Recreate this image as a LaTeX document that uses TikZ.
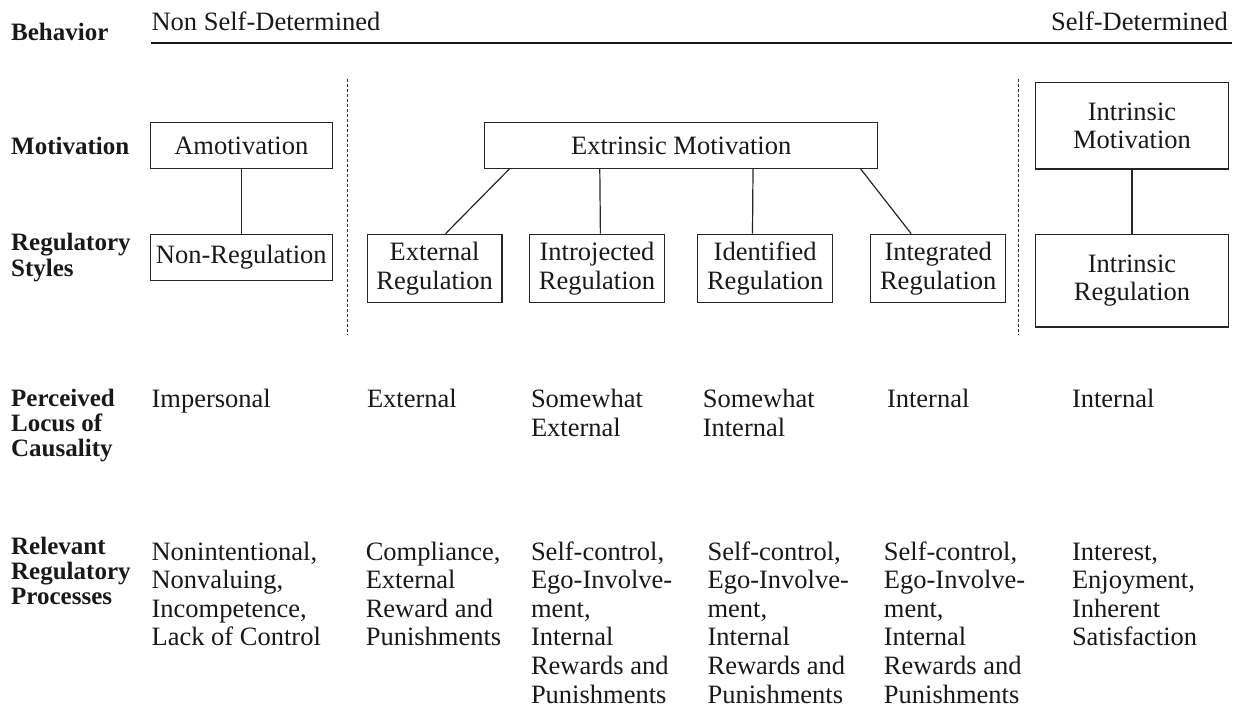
\documentclass[tikz,border=0pt]{standalone}
\usepackage{fontspec}
\setmainfont{Liberation Serif}
% top-aligned stack of lines: the node's baseline is that of the first line
\newcommand{\colstack}[1]{\begin{tabular}[t]{@{}l@{}}#1\end{tabular}}
\begin{document}
\begin{tikzpicture}[x=1pt,y=-1pt,
  lbl/.style={anchor=base west,inner sep=0pt,text=black!90,
    font=\fontsize{25}{25.4}\selectfont\bfseries},
  txt/.style={anchor=base west,inner sep=0pt,text=black!90,
    font=\fontsize{26.5}{28.6}\selectfont},
  loc/.style={txt,font=\fontsize{26.5}{29.4}\selectfont},
  box/.style={draw=black!85,line width=1.2pt,inner sep=0pt,align=center,text=black!90,
    font=\fontsize{26.5}{28.8}\selectfont},
  link/.style={draw=black!85,line width=1.2pt},
  sep/.style={draw=black!80,line width=1.2pt,dash pattern=on 3pt off 2pt}]
\useasboundingbox (0,0) rectangle (1237,709);

% continuum header
\node[lbl] (hBeh) at (11,41) {Behavior};
\node[txt] (hNon) at (151.4,30.7) {Non Self-Determined};
\node[txt,anchor=base east] (hSelf) at (1228,30.7) {Self-Determined};
\coordinate (axL) at (151.4,43.3);
\coordinate (axR) at (1232,43.3);
\draw[line width=2.2pt,black!90] (axL) -- (axR);

% column separators
\draw[sep] (347.8,79.3) -- (347.8,335);
\draw[sep] (1018.7,79.3) -- (1018.7,335);

% row labels
\node[lbl] (rMot) at (11,154) {Motivation};
\node[lbl] (rReg) at (11,250.7) {\colstack{Regulatory\\Styles}};
\node[lbl] (rLoc) at (11,406) {\colstack{Perceived\\Locus of\\Causality}};
\node[lbl] (rPro) at (11,554) {\colstack{Relevant\\Regulatory\\Processes}};

% motivation boxes
\node[box,minimum width=182.2,minimum height=45.6] (amot) at (241.3,145.5) {Amotivation};
\node[box,minimum width=393.2,minimum height=45.6] (extr) at (681.2,145.5) {Extrinsic Motivation};
\node[box,minimum width=193.6,minimum height=86.3] (intm) at (1132,125.85) {Intrinsic\\Motivation};

% regulatory style boxes
\node[box,minimum width=182.2,minimum height=46.4] (nonreg) at (241.3,257.5) {Non-Regulation};
\node[box,minimum width=134.8,minimum height=68.4] (extreg) at (434.6,268.5) {External\\Regulation};
\node[box,minimum width=134.8,minimum height=68.4] (introreg) at (597.05,268.5) {Introjected\\Regulation};
\node[box,minimum width=134.8,minimum height=68.4] (identreg) at (765.2,268.5) {Identified\\Regulation};
\node[box,minimum width=134.8,minimum height=68.4] (integreg) at (938.2,268.5) {Integrated\\Regulation};
\node[box,minimum width=193.6,minimum height=92.7] (intreg) at (1132,280.65) {Intrinsic\\Regulation};

% links between levels
\draw[link] (amot.south) -- (nonreg.north);
\draw[link] (intm.south) -- (intreg.north);
\draw[link] ([xshift=25.4pt]extr.south west) -- ([xshift=10.9pt]extreg.north);
\draw[link] ([xshift=115.8pt]extr.south west) -- ([xshift=3.35pt]introreg.north);
\draw[link] ([xshift=-125.4pt]extr.south east) -- ([xshift=-12.7pt]identreg.north);
\draw[link] ([xshift=-17.8pt]extr.south east) -- ([xshift=-27pt]integreg.north);

% perceived locus of causality
\node[loc] (l1) at (151.4,407.3) {Impersonal};
\node[loc] (l2) at (366.8,407.3) {External};
\node[loc] (l3) at (530.8,407.3) {\colstack{Somewhat\\External}};
\node[loc] (l4) at (702.6,407.3) {\colstack{Somewhat\\Internal}};
\node[loc] (l5) at (886.8,407.3) {Internal};
\node[loc] (l6) at (1071.8,407.3) {Internal};

% relevant regulatory processes
\node[txt] (p1) at (151.4,560) {\colstack{Nonintentional,\\Nonvaluing,\\Incompetence,\\Lack of Control}};
\node[txt] (p2) at (365.6,560) {\colstack{Compliance,\\External\\Reward and\\Punishments}};
\node[txt] (p3) at (530.8,560) {\colstack{Self-control,\\Ego-Involve-\\ment,\\Internal\\Rewards and\\Punishments}};
\node[txt] (p4) at (707.4,560) {\colstack{Self-control,\\Ego-Involve-\\ment,\\Internal\\Rewards and\\Punishments}};
\node[txt] (p5) at (883.7,560) {\colstack{Self-control,\\Ego-Involve-\\ment,\\Internal\\Rewards and\\Punishments}};
\node[txt] (p6) at (1071.8,560) {\colstack{Interest,\\Enjoyment,\\Inherent\\Satisfaction}};
\end{tikzpicture}
\end{document}
